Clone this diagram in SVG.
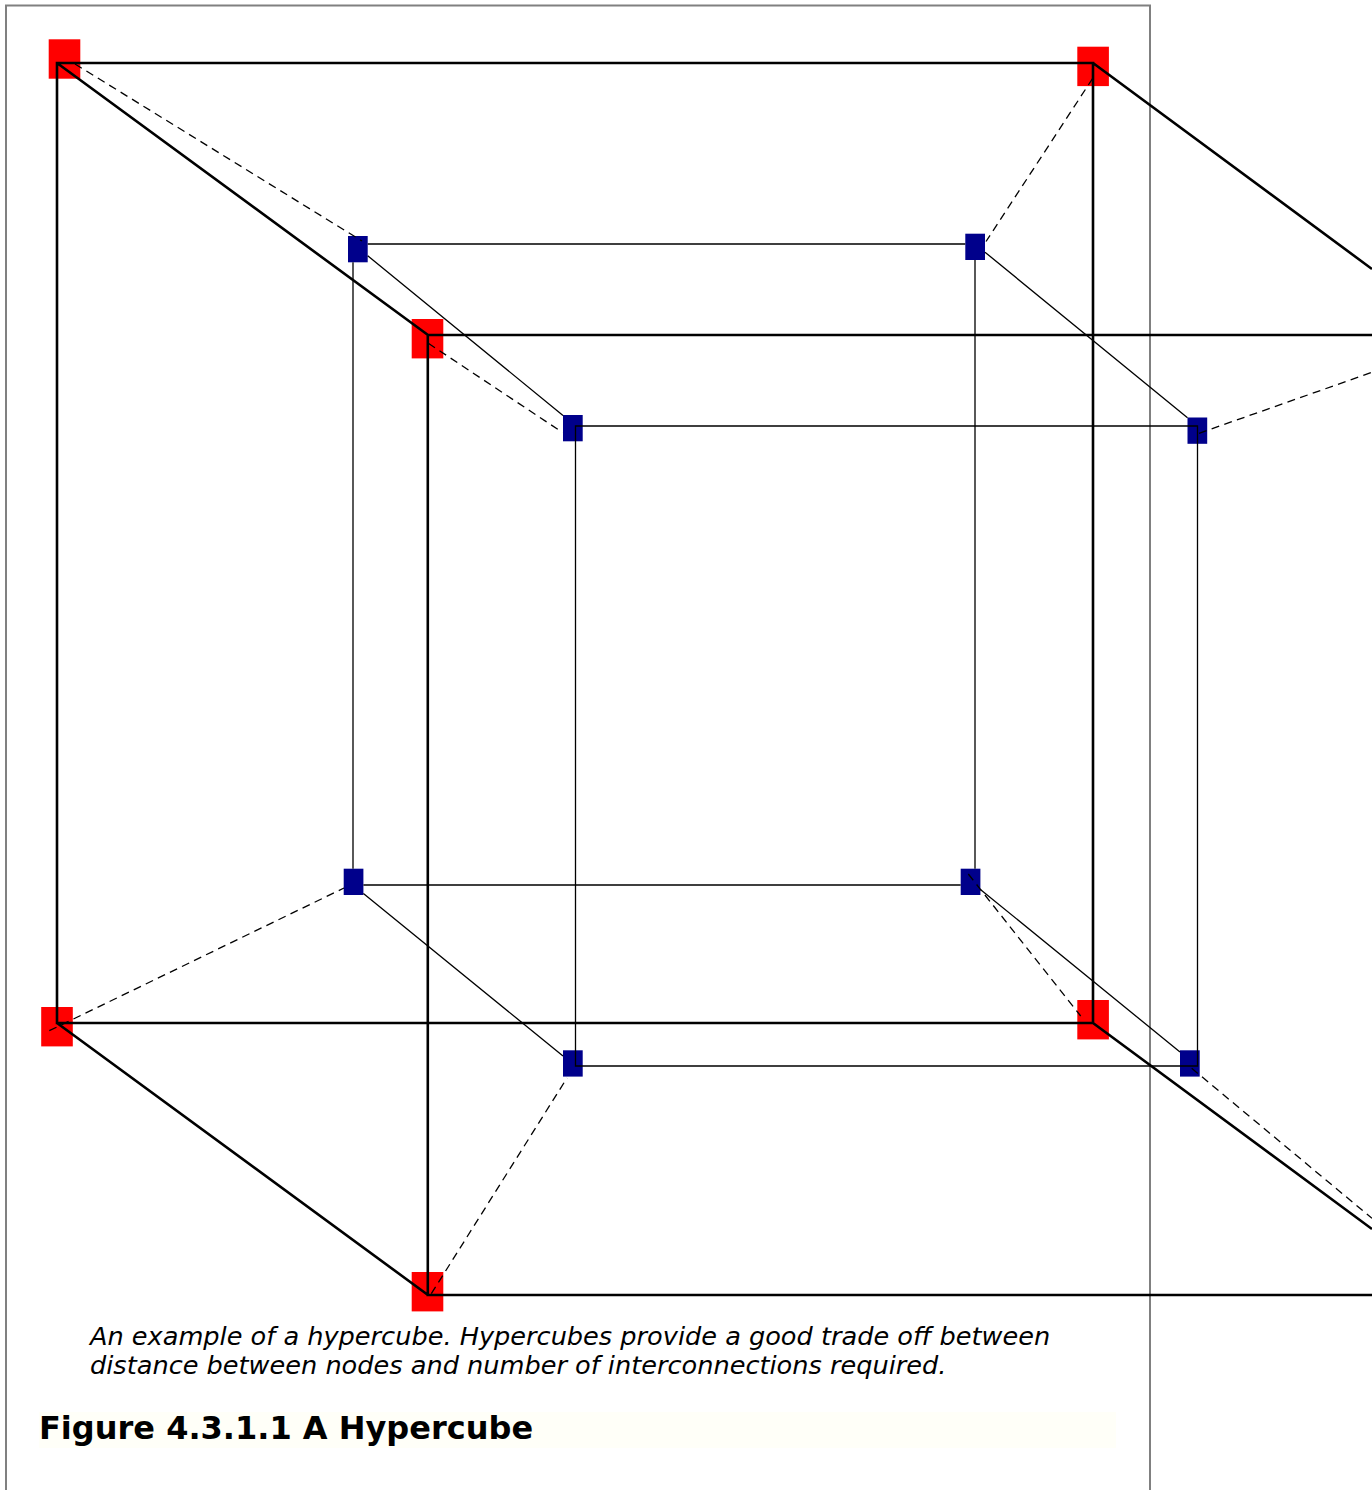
<svg xmlns="http://www.w3.org/2000/svg" width="1372" height="1490" viewBox="0 0 1372 1490">
<style>
.red{fill:#ff0000}
.blue{fill:#00008b}
.thick{stroke:#000;stroke-width:2.600;fill:none}
.thin{stroke:#000;stroke-width:1.300;fill:none}
.dash{stroke:#000;stroke-width:1.300;fill:none;stroke-dasharray:8 5.400}
.cap{font-family:"DejaVu Sans",sans-serif;font-style:italic;font-size:25.600px;fill:#000}
.title{font-family:"DejaVu Sans",sans-serif;font-weight:bold;font-size:32px;fill:#000}
</style>
<rect width="1372" height="1490" fill="#fff"/>
<path id="frame" d="M6 1490V5.500H1150V1490" fill="none" stroke="#808080" stroke-width="2"/>
<g id="outer-1"><rect class="red" x="48.700" y="39.300" width="31.600" height="39.400"/></g>
<g id="outer-2"><rect class="red" x="1077.300" y="46.700" width="31.600" height="39.400"/></g>
<g id="outer-3"><rect class="red" x="411.700" y="319" width="31.600" height="39.400"/></g>
<g id="outer-4"><rect class="red" x="41.200" y="1007" width="31.600" height="39.400"/></g>
<g id="outer-5"><rect class="red" x="1077.300" y="1000" width="31.600" height="39.400"/></g>
<g id="outer-6"><rect class="red" x="411.700" y="1272" width="31.600" height="39.400"/></g>
<g id="inner-1"><rect class="blue" x="348" y="236" width="19.700" height="26.300"/></g>
<g id="inner-2"><rect class="blue" x="965.300" y="233.700" width="19.700" height="26.300"/></g>
<g id="inner-3"><rect class="blue" x="563" y="415" width="19.700" height="26.300"/></g>
<g id="inner-4"><rect class="blue" x="1187.500" y="417.500" width="19.700" height="26.300"/></g>
<g id="inner-5"><rect class="blue" x="343.700" y="868.700" width="19.700" height="26.300"/></g>
<g id="inner-6"><rect class="blue" x="960.700" y="868.700" width="19.700" height="26.300"/></g>
<g id="inner-7"><rect class="blue" x="563" y="1050.300" width="19.700" height="26.300"/></g>
<g id="inner-8"><rect class="blue" x="1180" y="1050.300" width="19.700" height="26.300"/></g>
<g id="connectors">
<path class="thick" d="M1093 63H57V1023H1093ZM57 63 428 335M1093 63 1372 269M57 1023 428 1295M1093 1023 1372 1229M1372 335H427.800V1295H1372"/>
<path class="thin" d="M367.700 244H965.300M353 262.300V868.700M975 260V868.700M363.400 885H960.700"/>
<path class="thin" d="M575.500 426H1197.500V1066H575.500Z"/>
<path class="thin" d="M367.700 255.800 563 415.500M985 252.200 1187.500 417.800M363.400 893.500 563 1056M980.400 889.400 1180 1052"/>
<path class="dash" d="M75 64 362 241"/>
<path class="dash" d="M428.300 343.300 562.300 432.300"/>
<path class="dash" d="M1092.700 78.300 986 241.500"/>
<path class="dash" d="M1199 433.300 1372 372.300"/>
<path class="dash" d="M49.300 1030.700 344 888"/>
<path class="dash" d="M968.300 874 1080.700 1016"/>
<path class="dash" d="M1191.700 1068.300 1372 1218.300"/>
<path class="dash" d="M431.300 1293.700 567 1078"/>
</g>
<rect x="39" y="1412" width="1077" height="36" fill="#fffff8"/>
<text class="cap" x="90" y="1345">An example of a hypercube. Hypercubes provide a good trade off between</text>
<text class="cap" x="90" y="1374">distance between nodes and number of interconnections required.</text>
<text class="title" x="39" y="1439">Figure 4.3.1.1 A Hypercube</text>
</svg>
